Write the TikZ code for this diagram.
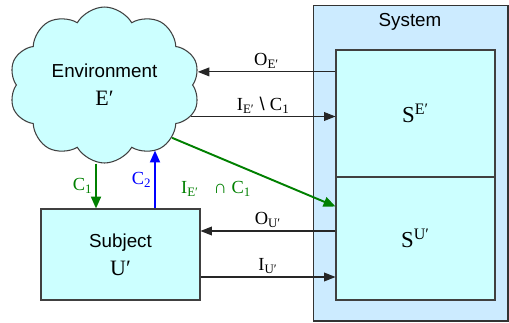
\documentclass[tikz,border=0pt]{standalone}
\usepackage{fontspec}
\setmainfont{Liberation Sans}
\newfontfamily\tms{Liberation Serif}
\usetikzlibrary{arrows.meta,calc,positioning,shapes.symbols}
\definecolor{sysblue}{RGB}{204,235,255}
\definecolor{boxcyan}{RGB}{204,255,255}
\definecolor{flowgreen}{RGB}{0,128,0}
\newcommand{\sym}[2]{{\tms #1\textsubscript{#2}}}

\begin{document}
\begin{tikzpicture}[x=0.02cm,y=-0.02cm,
  box/.style={draw=black!75,fill=boxcyan,line width=0.6pt,inner sep=0pt,font=\fontsize{10.7}{16}\selectfont,align=center},
  flow/.style={draw=black!85,line width=0.6pt,-{Triangle[length=6.5pt,width=5pt]}},
  ctrl/.style={line width=1.1pt,-{Triangle[length=6.8pt,width=5.7pt]}},
  lbl/.style={font=\fontsize{10.5}{12}\selectfont,inner sep=1.5pt}]
  \useasboundingbox (0,0) rectangle (509,322);
  \node[draw=black!80,fill=sysblue,line width=0.6pt,minimum width=3.9cm,minimum height=6.32cm] (sys) at (410.5,163) {};
  \node[font=\fontsize{10.7}{12}\selectfont] (systxt) at (410,22) {System};
  \node[box,minimum width=3.18cm,minimum height=2.54cm] (SE) at (415.5,113.5) {\fontsize{13}{14}\tms S\textsuperscript{E′}};
  \node[box,minimum width=3.18cm,minimum height=2.46cm] (SU) at (415.5,238.5) {\fontsize{13}{14}\tms S\textsuperscript{U′}};
  \node[box,minimum width=3.18cm,minimum height=1.82cm] (subj) at (120.5,254.5) {Subject\\{\fontsize{12.5}{14}\tms U′}};
  \node[box,cloud,cloud puffs=10,cloud puff arc=120,aspect=1.25,minimum width=3.82cm,minimum height=3.12cm] (env) at (104.5,85) {Environment\\{\fontsize{12.5}{14}\tms E′}};
  \coordinate (c1) at ($(subj.north)+(-24.5,0)$);
  \coordinate (c2) at ($(subj.north)+(34.5,0)$);
  \draw[flow] (SE.west |- env.8) -- (env.8) node[lbl,midway,above] {\sym{O}{E′}};
  \draw[flow] (env.-20) -- (SE.west |- env.-20) node[lbl,midway,above] {\sym{I}{E′} \textbackslash{} \sym{C}{1}};
  \draw[ctrl,flowgreen] (env.-38) -- ($(SU.north west)+(0,30)$) node[lbl,pos=0.27,below=12pt,text=flowgreen] {\sym{I}{E′}\hspace{0.8em}{\tms ∩ }\sym{C}{1}};
  \draw[ctrl,flowgreen] (c1 |- env.south) -- (c1) node[lbl,midway,left] {\sym{C}{1}};
  \draw[ctrl,blue] (c2) -- ($(c2 |- env.south)+(0,-13)$) node[lbl,midway,left] {\sym{C}{2}};
  \draw[flow] (SU.west |- 0,231) -- (subj.east |- 0,231) node[lbl,midway,above] {\sym{O}{U′}};
  \draw[flow] (subj.east |- 0,277) -- (SU.west |- 0,277) node[lbl,midway,above] {\sym{I}{U′}};
\end{tikzpicture}
\end{document}
